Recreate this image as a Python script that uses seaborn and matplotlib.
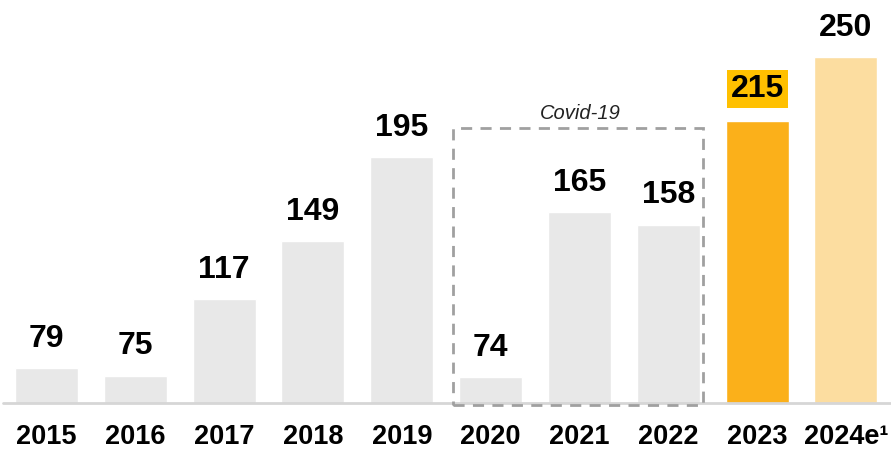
import matplotlib
matplotlib.use("Agg")
import matplotlib.pyplot as plt
import seaborn as sns
import pandas as pd
from matplotlib.patches import Rectangle

years = ["2015", "2016", "2017", "2018", "2019", "2020", "2021", "2022", "2023", "2024e\u00b9"]
values = [79, 75, 117, 149, 195, 74, 165, 158, 215, 250]
colors = ["#E8E8E8"] * 8 + ["#FBB01A", "#FCDDA0"]
covid_label = "Covid-19"

sns.set_theme(style="white")
plt.rcParams["font.family"] = ["Liberation Sans", "DejaVu Sans"]

fig = plt.figure(figsize=(8.91, 4.49), dpi=100)
ax = fig.add_axes([0.0, 0.1024, 1.0, 0.8976])

df = pd.DataFrame({"year": years, "value": values})
sns.barplot(data=df, x="year", y="value", hue="year", palette=colors,
            legend=False, width=0.71, ax=ax, saturation=1)

ax.set_xlim(-0.523, 9.507)
ax.set_ylim(59.9, 281.5)
for s in ax.spines.values():
    s.set_visible(False)
ax.set_yticks([])
ax.set_xlabel("")
ax.set_ylabel("")
ax.tick_params(axis="x", length=0, pad=15)
ax.set_xticks(range(len(years)))
ax.set_xticklabels(years, fontsize=19.5, fontweight="bold", color="black")

ax.axhline(59.9, color="#D6D6D6", lw=2, xmin=0.003, clip_on=False, zorder=1)

for i, v in enumerate(values):
    kw = {}
    off = 21
    if i == 8:
        kw["bbox"] = dict(boxstyle="square,pad=0.12", fc="#FFC000", ec="none")
        off = 23
    ax.annotate(str(v), (i, v), xytext=(0, off), textcoords="offset points",
                ha="center", va="center", fontsize=23, fontweight="bold",
                color="black", **kw)

rect = Rectangle((4.576, 58.8), 7.39 - 4.576, 211.1 - 58.8, fill=False,
                 ec="#A0A0A0", lw=2, ls=(0, (4, 3)), clip_on=False, zorder=5)
ax.add_patch(rect)
ax.text(6.006, 219.3, covid_label, ha="center", va="center", fontsize=14.5,
        style="italic", color="#222222")

fig.savefig("out.png", dpi=100)
